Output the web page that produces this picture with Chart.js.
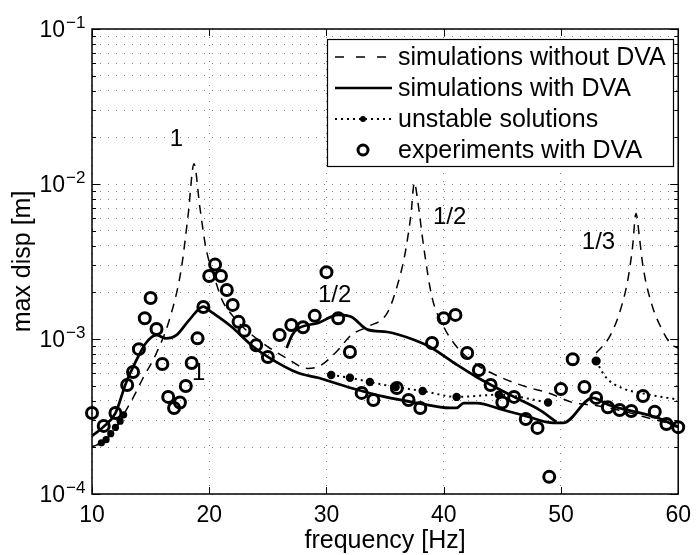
<!DOCTYPE html>
<html>
<head>
<meta charset="utf-8">
<script src="https://cdn.jsdelivr.net/npm/chart.js@4"></script>
<style>
  html, body { margin: 0; padding: 0; background: #fff; }
  #wrap { width: 699px; height: 555px; position: relative; }
</style>
</head>
<body>
<div id="wrap"><canvas id="dispChart"></canvas></div>
<script>
// axis ticks
const xTicks = [10, 20, 30, 40, 50, 60];
const yDecades = [1e-4, 1e-3, 1e-2];
const yMantissas = [1, 2, 3, 4, 5, 6, 7, 8, 9];
const yTickExps = [-4, -3, -2, -1];

// simulations without DVA (main branch)
const noDvaFreq = [10, 11, 12, 12.6, 13.5, 14.3, 15.5, 16.6, 17.6, 18.2, 18.7, 19.2, 19.7, 20.6, 21.1, 22, 23, 25, 26.5, 28.4, 29.5, 31, 32.1, 33.5, 35.2, 36.1, 36.7, 37.2, 37.5, 37.8, 38.3, 39, 40, 40.9, 42.5, 44.8, 47.1, 49, 51, 53, 55, 57, 60];
const noDvaDisp = [2.01e-4, 2.19e-4, 2.63e-4, 3.16e-4, 4.17e-4, 5.50e-4, 8.13e-4, 1.33e-3, 2.79e-3, 6.31e-3, 1.35e-2, 7.08e-3, 3.93e-3, 2.29e-3, 1.78e-3, 1.41e-3, 1.17e-3, 8.91e-4, 7.59e-4, 6.46e-4, 6.76e-4, 8.51e-4, 1.06e-3, 1.20e-3, 1.48e-3, 2.29e-3, 3.55e-3, 6.31e-3, 1.02e-2, 7.59e-3, 3.89e-3, 1.86e-3, 1.20e-3, 9.33e-4, 7.08e-4, 5.69e-4, 4.90e-4, 4.47e-4, 3.89e-4, 3.72e-4, 3.47e-4, 3.16e-4, 2.75e-4];
// simulations without DVA (1/3 branch)
const noDva13Freq = [53, 54.1, 55, 55.7, 56.1, 56.4, 56.7, 57.0, 57.8, 58.5, 59.3, 60];
const noDva13Disp = [8.13e-4, 1.02e-3, 1.48e-3, 2.40e-3, 3.89e-3, 6.46e-3, 4.47e-3, 2.92e-3, 1.62e-3, 1.20e-3, 9.42e-4, 8.71e-4];

// simulations with DVA
const dvaLowFreq = [10, 10.95, 12, 12.9, 13.8, 14.6, 15.5, 16.3, 17.2, 18.3, 19.5, 20.2, 21.9, 23.6, 25.1, 27.6, 29.3, 32.1, 35, 37.8, 40.5, 41.1, 41.7, 42.8, 45.1, 47.3, 48.7, 49.4, 50.2, 52.7, 54.1, 58.3, 60];
const dvaLowDisp = [2.37e-4, 2.70e-4, 3.33e-4, 5.20e-4, 7.33e-4, 9.42e-4, 1.06e-3, 1.01e-3, 1.06e-3, 1.33e-3, 1.62e-3, 1.49e-3, 1.20e-3, 9.12e-4, 7.59e-4, 6.03e-4, 5.62e-4, 4.83e-4, 4.23e-4, 3.86e-4, 3.59e-4, 3.59e-4, 3.86e-4, 3.86e-4, 3.48e-4, 3.14e-4, 2.92e-4, 2.88e-4, 2.88e-4, 4.17e-4, 3.75e-4, 3.09e-4, 2.70e-4];
const dvaUpFreq = [26.6, 27.1, 27.6, 29.3, 31, 32.1, 33.5, 35.2, 37.5, 38.8, 40.9, 42.8, 46, 48.2, 49.6];
const dvaUpDisp = [8.75e-4, 1.07e-3, 1.17e-3, 1.27e-3, 1.43e-3, 1.39e-3, 1.15e-3, 1.11e-3, 9.86e-4, 8.91e-4, 7.00e-4, 5.69e-4, 4.23e-4, 3.48e-4, 2.92e-4];

// unstable solutions
const unstAFreq = [10, 10.8, 11.2, 11.6, 12.0, 12.4, 12.7];
const unstADisp = [2.01e-4, 2.14e-4, 2.24e-4, 2.45e-4, 2.69e-4, 2.95e-4, 3.24e-4];
const unstBFreq = [30.4, 32, 33.7, 35.9, 38.2, 41.1, 44.7, 48.9];
const unstBDisp = [5.86e-4, 5.62e-4, 5.28e-4, 4.90e-4, 4.62e-4, 4.23e-4, 4.37e-4, 3.89e-4];
const unstCFreq = [53, 53.8, 55.2, 56.9, 59.1, 60];
const unstCDisp = [7.21e-4, 5.69e-4, 4.83e-4, 4.47e-4, 4.17e-4, 4.07e-4];

// experiments with DVA
const expFreq = [10, 11, 12, 13, 13.5, 14, 14.5, 15, 15.5, 16, 16.5, 17, 17.5, 18, 18.5, 19, 19.5, 20, 20.5, 21, 21.5, 22, 22.5, 23, 24, 25, 26, 27, 28, 29, 30, 31, 32, 33, 34, 36, 37, 38, 39, 40, 41, 42, 43, 44, 45, 46, 47, 48, 49, 50, 51, 52, 53, 54, 55, 56, 57, 58, 59, 60];
const expDisp = [3.33e-4, 2.75e-4, 3.33e-4, 5.05e-4, 6.12e-4, 8.6e-4, 1.36e-3, 1.84e-3, 1.16e-3, 6.9e-4, 4.23e-4, 3.59e-4, 3.89e-4, 4.98e-4, 7.0e-4, 1.01e-3, 1.61e-3, 2.55e-3, 3.02e-3, 2.55e-3, 2.07e-3, 1.66e-3, 1.29e-3, 1.13e-3, 9.1e-4, 7.66e-4, 1.06e-3, 1.23e-3, 1.19e-3, 1.41e-3, 2.70e-3, 1.36e-3, 8.24e-4, 4.49e-4, 4.04e-4, 4.83e-4, 4.04e-4, 3.59e-4, 9.42e-4, 1.36e-3, 1.43e-3, 8.13e-4, 6.31e-4, 5.05e-4, 3.89e-4, 4.23e-4, 3.05e-4, 2.67e-4, 1.29e-4, 4.75e-4, 7.41e-4, 4.9e-4, 4.17e-4, 3.63e-4, 3.48e-4, 3.43e-4, 4.29e-4, 3.39e-4, 2.83e-4, 2.70e-4];

// harmonic order labels
const orderText = ["1", "1", "1/2", "1/2", "1/3"];
const orderFreq = [17.2, 19.1, 30.7, 40.5, 53.2];
const orderDisp = [1.94e-2, 5.98e-4, 1.92e-3, 6.12e-3, 4.22e-3];

const FONT = "'Liberation Sans', Arial, Helvetica, sans-serif";

const yGrid = [];
yDecades.forEach(d => yMantissas.forEach(m => yGrid.push(Number((d * m).toPrecision(3)))));
yGrid.push(1e-1);

function pts(xs, ys) {
    return xs.map((x, i) => ({ x: x, y: ys[i] }));
}

const lineBase = {
    borderColor: "#000",
    backgroundColor: "#000",
    fill: false,
    pointRadius: 0,
    cubicInterpolationMode: "monotone"
};

const DASH = [9, 7];

const datasets = [
    { ...lineBase, label: "simulations without DVA", data: pts(noDvaFreq, noDvaDisp), borderWidth: 1.5, borderDash: DASH },
    { ...lineBase, label: "", data: pts(noDva13Freq, noDva13Disp), borderWidth: 1.5, borderDash: DASH },
    { ...lineBase, label: "simulations with DVA", data: pts(dvaLowFreq, dvaLowDisp), borderWidth: 2.7 },
    { ...lineBase, label: "", data: pts(dvaUpFreq, dvaUpDisp), borderWidth: 2.7 },
    { ...lineBase, label: "unstable solutions", data: pts(unstAFreq, unstADisp), borderWidth: 2, borderDash: [2, 4],
      pointRadius: c => c.dataIndex === 0 ? 0 : 2.6 },
    { ...lineBase, label: "", data: pts(unstBFreq, unstBDisp), borderWidth: 2, borderDash: [2, 4], pointRadius: 3.2 },
    { ...lineBase, label: "", data: pts(unstCFreq, unstCDisp), borderWidth: 2, borderDash: [2, 4],
      pointRadius: c => c.dataIndex === 0 ? 3.6 : 0 },
    { label: "experiments with DVA", data: pts(expFreq, expDisp), showLine: false, pointRadius: 5.5,
      pointBorderWidth: 3, pointBorderColor: "#000", pointBackgroundColor: "rgba(0,0,0,0)", clip: false }
];

const legendRows = [0, 2, 4, 7];

function drawLegend(ctx, chart) {
    const L = 327, T = 39, R = 673, B = 166;
    const rowY = [57, 88, 119, 150];
    const x1 = 335, x2 = 392, tx = 398, mid = 363;
    ctx.fillStyle = "#fff";
    ctx.fillRect(L, T, R - L, B - T);
    ctx.strokeStyle = "#000";
    ctx.lineWidth = 1.2;
    ctx.strokeRect(L + 0.5, T + 0.5, R - L, B - T);

    legendRows.forEach((di, r) => {
        const ds = chart.data.datasets[di];
        const y = rowY[r];
        ctx.save();
        ctx.strokeStyle = "#000";
        ctx.fillStyle = "#000";
        if (r === 0) {
            ctx.setLineDash([9, 12]);
            ctx.lineWidth = 1.5;
            ctx.beginPath(); ctx.moveTo(x1, y); ctx.lineTo(x2, y); ctx.stroke();
        } else if (r === 1) {
            ctx.lineWidth = 2.7;
            ctx.beginPath(); ctx.moveTo(x1, y); ctx.lineTo(x2, y); ctx.stroke();
        } else if (r === 2) {
            ctx.setLineDash([2, 4]);
            ctx.lineWidth = 2;
            ctx.beginPath(); ctx.moveTo(x1, y); ctx.lineTo(x2, y); ctx.stroke();
            ctx.setLineDash([]);
            ctx.beginPath(); ctx.arc(mid, y, 3, 0, Math.PI * 2); ctx.fill();
        } else {
            ctx.lineWidth = 3;
            ctx.beginPath(); ctx.arc(mid, y, 5, 0, Math.PI * 2); ctx.stroke();
        }
        ctx.restore();
        ctx.fillStyle = "#000";
        ctx.font = "25px " + FONT;
        ctx.textAlign = "left";
        ctx.textBaseline = "middle";
        ctx.fillText(ds.label, tx, y + 1);
    });
}

const overlay = {
    id: "overlay",
    afterDatasetsDraw(chart) {
        const { ctx, chartArea: a, scales: { x, y } } = chart;
        ctx.save();
        // order labels
        ctx.fillStyle = "#000";
        ctx.font = "24px " + FONT;
        ctx.textAlign = "center";
        ctx.textBaseline = "middle";
        orderText.forEach((t, i) => {
            ctx.fillText(t, x.getPixelForValue(orderFreq[i]), y.getPixelForValue(orderDisp[i]));
        });
        // legend
        drawLegend(ctx, chart);
        // box
        ctx.strokeStyle = "#000";
        ctx.lineWidth = 1.5;
        ctx.strokeRect(a.left, a.top, a.right - a.left, a.bottom - a.top);
        // inner ticks
        ctx.lineWidth = 1;
        ctx.beginPath();
        yGrid.forEach(v => {
            const py = Math.round(y.getPixelForValue(v)) + 0.5;
            const len = yTickExps.some(e => Math.abs(Math.log10(v) - e) < 1e-6) ? 8 : 4;
            ctx.moveTo(a.left, py); ctx.lineTo(a.left + len, py);
            ctx.moveTo(a.right, py); ctx.lineTo(a.right - len, py);
        });
        xTicks.forEach(v => {
            const px = Math.round(x.getPixelForValue(v)) + 0.5;
            ctx.moveTo(px, a.bottom); ctx.lineTo(px, a.bottom - 7);
            ctx.moveTo(px, a.top); ctx.lineTo(px, a.top + 7);
        });
        ctx.stroke();
        // y tick labels 10^n
        yTickExps.forEach(e => {
            const py = y.getPixelForValue(Math.pow(10, e));
            ctx.textAlign = "right";
            ctx.textBaseline = "middle";
            ctx.font = "23px " + FONT;
            ctx.fillText("10", 65, py + 2);
            ctx.textAlign = "left";
            ctx.textBaseline = "alphabetic";
            ctx.font = "17px " + FONT;
            ctx.fillText("\u2212" + Math.abs(e), 66, py - 1);
        });
        ctx.restore();
    }
};

new Chart(document.getElementById("dispChart"), {
    type: "line",
    data: { datasets: datasets },
    options: {
        responsive: true,
        maintainAspectRatio: false,
        animation: false,
        events: [],
        layout: { padding: { top: 29, right: 16, left: 0, bottom: 0 } },
        plugins: { legend: { display: false }, tooltip: { enabled: false } },
        scales: {
            x: {
                type: "linear",
                min: 10,
                max: 60,
                afterBuildTicks: s => { s.ticks = xTicks.map(v => ({ value: v })); },
                afterFit: s => { s.height = 61; },
                ticks: { color: "#000", font: { size: 23, family: FONT }, padding: 8, maxRotation: 0 },
                grid: { color: "rgba(0,0,0,0.5)", lineWidth: 1, drawTicks: false },
                border: { display: false, dash: [1, 7] },
                title: { display: true, text: "frequency [Hz]", color: "#000", font: { size: 25, family: FONT }, padding: { top: 0, bottom: -1 } }
            },
            y: {
                type: "logarithmic",
                min: 1e-4,
                max: 1e-1,
                afterBuildTicks: s => { s.ticks = yGrid.map(v => ({ value: v })); },
                afterFit: s => { s.width = 92; },
                ticks: { display: false, autoSkip: false },
                grid: { color: "rgba(0,0,0,0.5)", lineWidth: 1, drawTicks: false },
                border: { display: false, dash: [1, 7] },
                title: { display: true, text: "max disp [m]", color: "#000", font: { size: 25, family: FONT }, padding: { top: 8, bottom: 0 } }
            }
        }
    },
    plugins: [overlay]
});
</script>
</body>
</html>
